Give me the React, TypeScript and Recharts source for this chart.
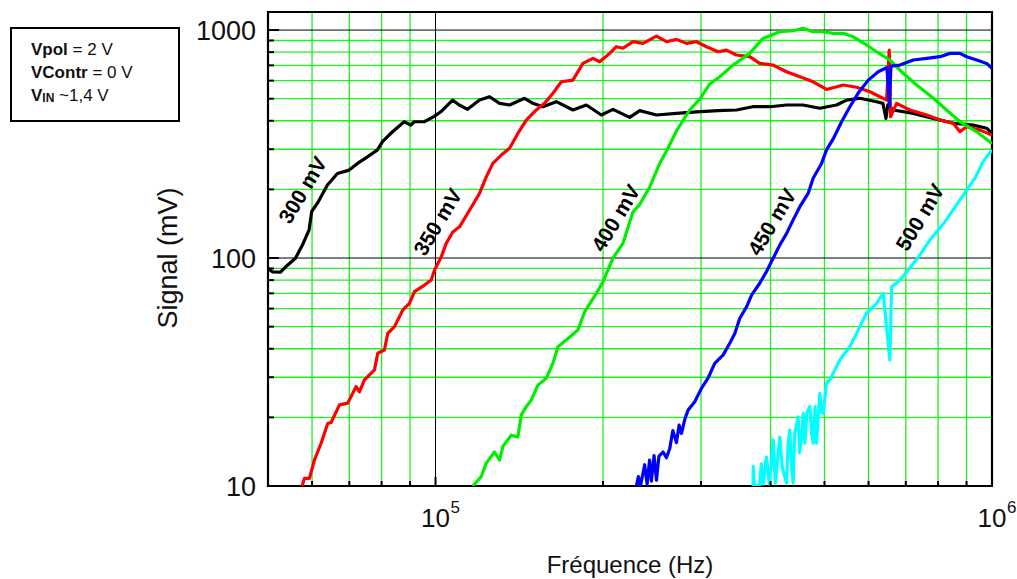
import React from 'react';
import { LineChart, Line, XAxis, YAxis, CartesianGrid, ReferenceArea, ReferenceDot } from 'recharts';

// ---------- data (frequency in Hz, signal in mV) ----------
const curve300: [number, number][] = [
  [50000, 90], [50900, 87], [52600, 86.6], [54200, 93], [56000, 99.7], [57650, 114], [59270, 133], [59910, 160],
  [61350, 174], [63940, 209], [66640, 235], [69960, 243], [72400, 260], [75450, 278], [78650, 298], [80300, 324],
  [83700, 358], [87840, 396], [90270, 383], [91550, 396], [95430, 396], [99470, 418], [102220, 438], [107300, 493],
  [110300, 469], [114170, 449], [119980, 493], [125060, 510], [130350, 477], [135860, 469], [144570, 502], [149620, 477],
  [155960, 461], [164860, 485], [176550, 446], [186650, 469], [198610, 424], [208400, 449], [223340, 414], [232800, 443],
  [249470, 424], [271000, 431], [294400, 438], [321900, 443], [347300, 446], [371600, 461], [398700, 461], [427300, 469],
  [457200, 469], [490500, 454], [525600, 469], [548000, 493], [579000, 502], [620400, 485], [636800, 477], [644800, 410],
  [650000, 470], [664500, 446], [721900, 431], [784500, 410], [852000, 390], [925500, 383], [978300, 371], [1000000, 352],
];

const curve350: [number, number][] = [
  [57580, 10], [58130, 10.8], [59340, 10.8], [60590, 13], [62290, 15.4], [64020, 18.8], [64920, 19], [67200, 22.7],
  [69550, 23.1], [72010, 27.3], [73000, 25.9], [74530, 29.2], [77680, 32.3], [78740, 38.2], [80950, 39.5], [82060, 46.7],
  [84370, 50], [87340, 59.2], [89780, 63.3], [91670, 71.2], [95540, 76.1], [98230, 80.1], [99590, 88.6], [102380, 101],
  [104530, 116], [107420, 130], [110440, 137], [115110, 162], [119980, 192], [123370, 227], [126770, 260], [131280, 283],
  [135860, 303], [140600, 352], [145580, 403], [151740, 446], [157040, 477], [162550, 528], [168300, 593], [176550, 603],
  [184060, 714], [191830, 751], [197240, 726], [205580, 790], [211350, 845], [217220, 832], [226330, 889], [235960, 874],
  [249470, 941], [260050, 889], [271000, 910], [282450, 874], [294400, 889], [306800, 845], [321900, 803], [333300, 817],
  [347300, 777], [366900, 764], [382400, 714], [404300, 702], [427300, 656], [451600, 624], [477100, 593], [504300, 549],
  [540300, 574], [571000, 561], [603400, 536], [629000, 510], [646600, 493], [653600, 817], [657400, 417], [673900, 477],
  [711900, 446], [763400, 424], [806500, 403], [852000, 390], [875900, 358], [900500, 377], [951500, 364], [1000000, 346],
];

const curve400: [number, number][] = [
  [116700, 10], [120840, 11], [123370, 12.6], [127640, 14.1], [130350, 13], [132140, 14.9], [136810, 16.7], [140600, 16.4],
  [142600, 20.5], [145580, 22.3], [148620, 23.8], [152760, 27.7], [158160, 29.7], [162550, 34.5], [165960, 40.8],
  [171820, 43.7], [180270, 48.3], [185350, 58.1], [194550, 70], [199960, 78.7], [208400, 100], [217220, 116],
  [226330, 159], [232800, 172], [242640, 205], [252900, 260], [261700, 303], [271000, 361], [286200, 446], [298500, 498],
  [311100, 580], [324200, 624], [342500, 702], [366900, 790], [387800, 919], [415600, 983], [439200, 993], [457700, 1017],
  [477100, 983], [497300, 983], [518300, 967], [540300, 967], [563100, 934], [595000, 860], [620400, 803], [655400, 739],
  [692600, 646], [732100, 574], [784500, 502], [828700, 446], [875900, 396], [938700, 358], [1000000, 318],
];

const curve450: [number, number][] = [
  [229600, 10], [231500, 11], [233500, 10], [237600, 12.4], [240000, 10.2], [242500, 13], [244300, 10.5], [247000, 13.6],
  [249500, 10.6], [252000, 13.5], [256400, 14.1], [260000, 13.3], [263600, 14.6], [267000, 17.5], [271000, 15.5],
  [274000, 18.5], [276700, 17], [280500, 19.6], [284300, 21.5], [288000, 22.4], [292300, 23.4], [300500, 26.8],
  [308800, 29.7], [317500, 34.5], [328600, 37.5], [337900, 42.3], [345000, 46.7], [352200, 54.4], [362200, 61.1],
  [369800, 68.8], [382400, 77.5], [393200, 87.1], [401400, 96.3], [415600, 114], [427300, 128], [439200, 147],
  [451600, 168], [467300, 192], [477100, 224], [494000, 260], [504300, 298], [518300, 333], [536700, 396], [555400, 461],
  [574900, 529], [599300, 603], [624400, 656], [647500, 685], [654100, 464], [658200, 695], [683100, 702], [721900, 739],
  [763400, 751], [806500, 764], [840600, 790], [875900, 790], [900500, 764], [938700, 739], [978300, 714], [1000000, 679],
];

const curve500: [number, number][] = [
  [372100, 10], [372300, 12.2], [374000, 10], [382400, 10.1], [385000, 12.5], [388000, 10.2], [393200, 13.4],
  [398000, 10.2], [404600, 15.9], [408000, 10.3], [415600, 16.4], [420000, 12], [427300, 10.3], [430000, 15],
  [433200, 17.6], [436000, 12.5], [439200, 10.3], [442000, 17], [448400, 20.1], [451000, 14], [454800, 16.4],
  [458000, 20.8], [461000, 15.4], [465000, 21], [470700, 22.3], [474000, 17], [477100, 15.4], [481000, 22.3],
  [483900, 15.4], [490500, 25.5], [494000, 21], [497300, 20.8], [504300, 28.2], [511200, 29.2], [533000, 35.7],
  [555400, 40.8], [579000, 50], [595000, 57.2], [620400, 63.3], [637600, 70], [655400, 35.7], [660000, 74.8],
  [678500, 78.7], [711900, 90.4], [742000, 103], [773500, 120], [823000, 144], [875900, 180], [932000, 224],
  [963400, 264], [1000000, 298],
];

const seriesColors = ['#000000', '#ff0000', '#00ee00', '#0000ff', '#00ffff'];
const seriesData = [curve300, curve350, curve400, curve450, curve500];
const seriesNames = ['300 mV', '350 mV', '400 mV', '450 mV', '500 mV'];
// label anchor positions (Hz, mV)
const labelFreq = [57650, 100830, 210700, 402000, 742000];
const labelSig = [199, 144, 150, 144, 151];

const xDomain: [number, number] = [50000, 1000000];
const yDomain: [number, number] = [10, 1200];
const xTicks = [60000, 70000, 80000, 90000, 100000, 200000, 300000, 400000, 500000, 600000, 700000, 800000, 900000, 1000000];
const xMajor = [100000, 1000000];
const xTickBase: Record<number, string> = { 100000: '10', 1000000: '10' };
const xTickExp: Record<number, string> = { 100000: '5', 1000000: '6' };
const yTicks = [10, 20, 30, 40, 50, 60, 70, 80, 90, 100, 200, 300, 400, 500, 600, 700, 800, 900, 1000];
const yMajor = [10, 100, 1000];
const yTickLabels: Record<number, string> = { 10: '10', 100: '100', 1000: '1000' };

const freqMinorGrid = [60000, 70000, 80000, 90000, 200000, 300000, 400000, 500000, 600000, 700000, 800000, 900000];
const freqMajorGrid = [100000];
const sigMinorGrid = [20, 30, 40, 50, 60, 70, 80, 90, 200, 300, 400, 500, 600, 700, 800, 900];
const sigMajorGrid = [100, 1000];

const FONT = '"Liberation Sans", Arial, Helvetica, sans-serif';

const XTick = (props: any) => {
  const { x, y, payload } = props;
  const v = payload.value;
  const major = xMajor.includes(v);
  return (
    <g>
      <line x1={x} x2={x} y1={y} y2={y - (major ? 9 : 5)} stroke="#000" strokeWidth={2} />
      {xTickBase[v] && (
        <text x={x} y={y + 41} textAnchor="middle" fontFamily={FONT} fontSize={26} fill="#111">
          {xTickBase[v]}
        </text>
      )}
      {xTickExp[v] && (
        <text x={x + 15} y={y + 27} textAnchor="start" fontFamily={FONT} fontSize={17} fill="#111">
          {xTickExp[v]}
        </text>
      )}
    </g>
  );
};

const YTick = (props: any) => {
  const { x, y, payload } = props;
  const v = payload.value;
  const major = yMajor.includes(v);
  return (
    <g>
      <line x1={x} x2={x + (major ? 11 : 6)} y1={y} y2={y} stroke="#000" strokeWidth={2} />
      {yTickLabels[v] && (
        <text x={x - 12} y={y + 9.5} textAnchor="end" fontFamily={FONT} fontSize={27} fill="#111">
          {yTickLabels[v]}
        </text>
      )}
    </g>
  );
};

const makeLabelShape = (text: string) => (p: any) => {
  const { cx, cy } = p;
  return (
    <text
      x={cx}
      y={cy}
      transform={`rotate(-59 ${cx} ${cy})`}
      textAnchor="middle"
      dominantBaseline="central"
      fontFamily={FONT}
      fontWeight="bold"
      fontSize={21}
      fill="#000"
    >
      {text}
    </text>
  );
};

export default function App() {
  return (
    <div style={{ position: 'absolute', left: 0, top: 0, width: 1017, height: 579, background: '#fff', fontFamily: FONT }}>
      <LineChart width={1017} height={579} margin={{ top: 12, right: 25, bottom: 63, left: 208 }}>
        <CartesianGrid
          horizontalValues={sigMinorGrid}
          verticalValues={freqMinorGrid}
          stroke="#22ee22"
          strokeWidth={1.3}
        />
        <CartesianGrid
          horizontalValues={sigMajorGrid}
          verticalValues={freqMajorGrid}
          stroke="#000"
          strokeWidth={1}
        />
        <XAxis
          type="number"
          dataKey="f"
          scale="log"
          domain={xDomain}
          allowDataOverflow
          ticks={xTicks}
          interval={0}
          height={30}
          axisLine={false}
          tickLine={false}
          tickSize={0}
          tickMargin={0}
          tick={<XTick />}
        />
        <YAxis
          type="number"
          dataKey="v"
          scale="log"
          domain={yDomain}
          allowDataOverflow
          ticks={yTicks}
          interval={0}
          width={60}
          axisLine={false}
          tickLine={false}
          tickSize={0}
          tickMargin={0}
          tick={<YTick />}
        />
        {seriesData.map((d, i) => (
          <Line
            key={seriesNames[i]}
            name={seriesNames[i]}
            data={d.map(([f, v]) => ({ f, v }))}
            dataKey="v"
            type="linear"
            stroke={seriesColors[i]}
            strokeWidth={3.2}
            strokeLinejoin="round"
            dot={false}
            activeDot={false}
            isAnimationActive={false}
          />
        ))}
        <ReferenceArea
          x1={xDomain[0]}
          x2={xDomain[1]}
          y1={yDomain[0]}
          y2={yDomain[1]}
          fill="none"
          fillOpacity={0}
          stroke="#000"
          strokeWidth={2.2}
          ifOverflow="visible"
        />
        {seriesNames.map((n, i) => (
          <ReferenceDot key={n} x={labelFreq[i]} y={labelSig[i]} r={0} shape={makeLabelShape(n)} />
        ))}
      </LineChart>

      {/* info box */}
      <div
        style={{
          position: 'absolute',
          left: 10,
          top: 27,
          width: 170,
          height: 95,
          boxSizing: 'border-box',
          border: '2px solid #000',
          padding: '9px 0 0 19px',
          fontSize: 17,
          lineHeight: '23px',
          color: '#111',
          whiteSpace: 'nowrap',
        }}
      >
        <div><b>Vpol</b> = 2 V</div>
        <div><b>VContr</b> = 0 V</div>
        <div>
          <b>V</b>
          <b style={{ fontSize: 12, verticalAlign: '-1px' }}>IN</b> ~1,4 V
        </div>
      </div>

      {/* axis titles */}
      <div
        style={{
          position: 'absolute',
          left: 168,
          top: 258,
          transform: 'translate(-50%, -50%) rotate(-90deg)',
          fontSize: 27,
          color: '#111',
          whiteSpace: 'nowrap',
        }}
      >
        Signal (mV)
      </div>
      <div
        style={{
          position: 'absolute',
          left: 630,
          top: 565,
          transform: 'translate(-50%, -50%)',
          fontSize: 24,
          color: '#111',
          whiteSpace: 'nowrap',
        }}
      >
        Fréquence (Hz)
      </div>
    </div>
  );
}
